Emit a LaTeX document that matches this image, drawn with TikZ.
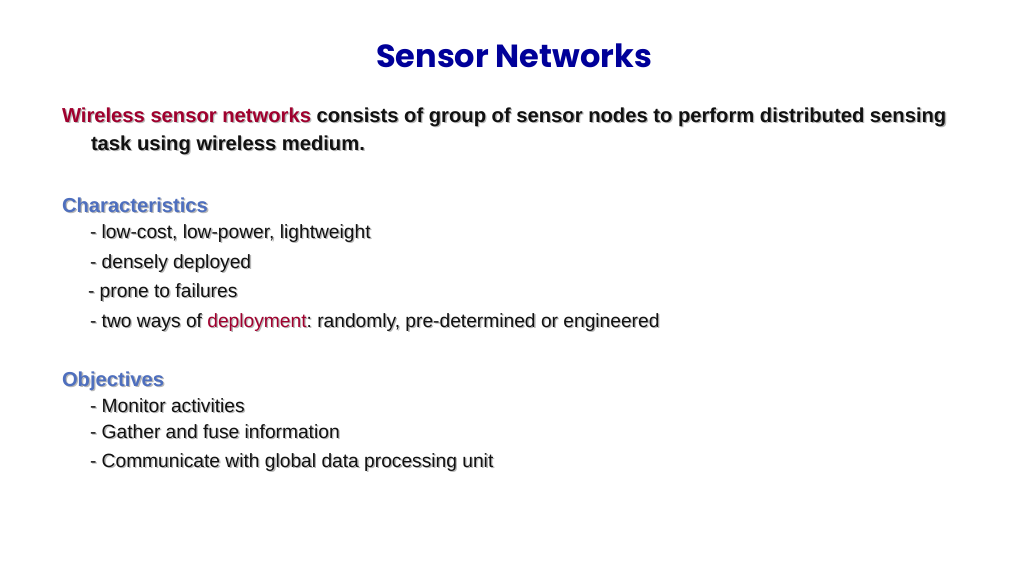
\documentclass[tikz,border=0pt]{standalone}
\usepackage{fontspec}
\setmainfont{Liberation Sans}
\newfontfamily\titlefont{Poppins}
\definecolor{titleblue}{HTML}{000099}
\definecolor{wsnred}{HTML}{A0002E}
\definecolor{headblue}{HTML}{4E6FBE}
\definecolor{bodyblack}{HTML}{111111}
\definecolor{shadowgray}{HTML}{B8B8B8}
\newif\ifinshadow
\newcommand\hlcol[2]{\ifinshadow#2\else\textcolor{#1}{#2}\fi}
\newcommand\shadtext[1]{\rlap{\inshadowtrue\kern1.3pt\raisebox{-1.3pt}{\color{shadowgray}#1}}#1}
\begin{document}
\frenchspacing
\begin{tikzpicture}[x=1pt,y=-1pt,
  txt/.style={anchor=base west,inner sep=0pt,outer sep=0pt,text=bodyblack},
  boldtxt/.style={txt,font=\fontsize{20.2}{22}\selectfont\bfseries},
  headtxt/.style={txt,font=\fontsize{20.2}{22}\selectfont\bfseries,text=headblue},
  itemtxt/.style={txt,font=\fontsize{19.2}{22}\selectfont},
  titletxt/.style={anchor=base,inner sep=0pt,text=titleblue,font=\fontsize{32}{36}\selectfont\titlefont\bfseries}]
\useasboundingbox[fill=white] (0,0) rectangle (1024,576);
\node[titletxt] (title) at (514,67) {Sensor Networks};
\node[boldtxt] (l1) at (62,122) {\shadtext{\hlcol{wsnred}{Wireless sensor networks} consists of group of sensor nodes to perform distributed sensing}};
\node[boldtxt] (l2) at (91,150) {\shadtext{task using wireless medium.}};
\node[headtxt] (ch) at (62,212) {\shadtext{Characteristics}};
\node[itemtxt] (c1) at (90,238) {\shadtext{- low-cost, low-power, lightweight}};
\node[itemtxt] (c2) at (90,268) {\shadtext{- densely deployed}};
\node[itemtxt] (c3) at (88,297) {\shadtext{- prone to failures}};
\node[itemtxt] (c4) at (90,327) {\shadtext{- two ways of \hlcol{wsnred}{deployment}: randomly, pre-determined or engineered}};
\node[headtxt] (ob) at (62,386) {\shadtext{Objectives}};
\node[itemtxt] (o1) at (90,412) {\shadtext{- Monitor activities}};
\node[itemtxt] (o2) at (90,438) {\shadtext{- Gather and fuse information}};
\node[itemtxt] (o3) at (90,467) {\shadtext{- Communicate with global data processing unit}};
\end{tikzpicture}
\end{document}
